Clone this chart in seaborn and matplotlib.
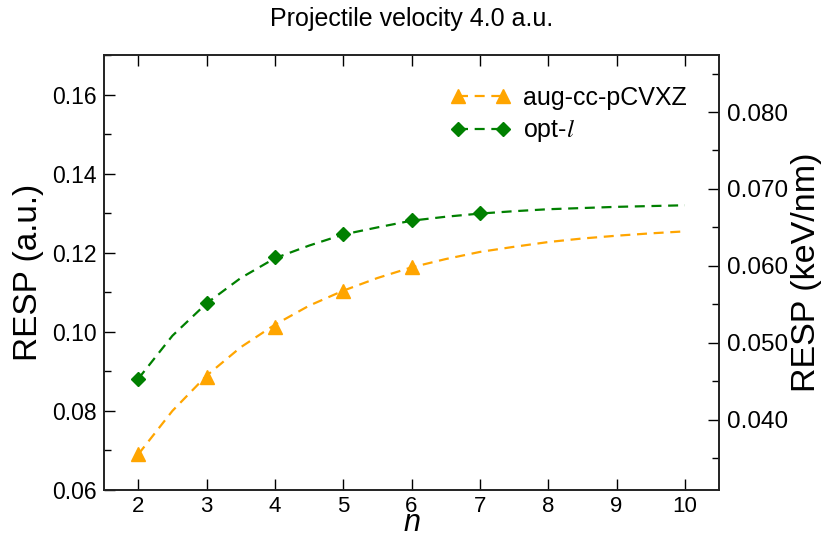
import numpy as np
import pandas as pd
import matplotlib
matplotlib.use('Agg')
import matplotlib.pyplot as plt
from matplotlib.lines import Line2D
from matplotlib.ticker import MultipleLocator, FormatStrFormatter
import seaborn as sns

sns.set_style('ticks')
plt.rcParams['font.family'] = ['Liberation Sans', 'DejaVu Sans']
plt.rcParams['mathtext.fontset'] = 'stix'
plt.rcParams['text.color'] = 'black'
plt.rcParams['axes.labelcolor'] = 'black'
plt.rcParams['xtick.color'] = 'black'
plt.rcParams['ytick.color'] = 'black'

# computed points
n_aug = [2, 3, 4, 5, 6]
resp_aug = [0.0690, 0.0887, 0.1013, 0.1102, 0.1163]
n_opt = [2, 3, 4, 5, 6, 7]
resp_opt = [0.0881, 0.1072, 0.1188, 0.1247, 0.1283, 0.1300]

# extrapolation curves
n_fit = [2, 2.5, 3, 3.5, 4, 4.5, 5, 5.5, 6, 6.5, 7, 7.5, 8, 8.5, 9, 9.5, 10]
fit_aug = [0.0690, 0.0800, 0.0889, 0.0961, 0.1018, 0.1066, 0.1104, 0.1136, 0.1163,
           0.1184, 0.1202, 0.1215, 0.1227, 0.1236, 0.1243, 0.1249, 0.1254]
fit_opt = [0.0881, 0.0990, 0.1072, 0.1136, 0.1186, 0.1218, 0.1246, 0.1264, 0.1281,
           0.1291, 0.1299, 0.1305, 0.1310, 0.1313, 0.1316, 0.1318, 0.1320]

AU_TO_KEV_NM = 0.51422
c_aug = '#FFA500'
c_opt = '#008000'
dash = (0, (4.5, 3))

fig = plt.figure(figsize=(8.27, 5.38), dpi=100)
ax = fig.add_axes([0.1258, 0.0892, 0.7437, 0.8086])

sns.lineplot(x=n_fit, y=fit_aug, ax=ax, color=c_aug, linestyle=dash, linewidth=1.6)
sns.lineplot(x=n_fit, y=fit_opt, ax=ax, color=c_opt, linestyle=dash, linewidth=1.6)
ax.plot(n_aug, resp_aug, linestyle='none', marker='^', markersize=10.5, color=c_aug)
ax.plot(n_opt, resp_opt, linestyle='none', marker='D', markersize=6.8, color=c_opt)

ax.set_xlim(1.5, 10.5)
ax.set_ylim(0.06, 0.17)
ax.set_xticks(range(2, 11))
ax.yaxis.set_major_locator(MultipleLocator(0.02))
ax.yaxis.set_minor_locator(MultipleLocator(0.01))
ax.yaxis.set_major_formatter(FormatStrFormatter('%.2f'))
ax.tick_params(axis='both', which='both', direction='in', width=1)
ax.tick_params(axis='y', labelsize=16.5, pad=5)
ax.tick_params(axis='x', labelsize=16, pad=4)
ax.tick_params(axis='x', which='major', length=8, top=True)
ax.tick_params(axis='y', which='major', length=8, right=False)
ax.tick_params(axis='y', which='minor', length=5, right=False)
for s in ax.spines.values():
    s.set_linewidth(1.2)
    s.set_color('#222222')

# x label sits right at the bottom edge, as in the original
ax.set_xlabel('')
fig.text(0.4977, 0.0, 'n', fontsize=22, style='italic', ha='center', va='bottom')
ax.set_ylabel('RESP (a.u.)', fontsize=24, labelpad=6)
ax.set_title('Projectile velocity 4.0 a.u.', fontsize=18, pad=21)

ax2 = ax.twinx()
ax2.set_ylim(0.06 * AU_TO_KEV_NM, 0.17 * AU_TO_KEV_NM)
ax2.yaxis.set_major_locator(MultipleLocator(0.01))
ax2.yaxis.set_minor_locator(MultipleLocator(0.005))
ax2.yaxis.set_major_formatter(FormatStrFormatter('%.3f'))
ax2.tick_params(axis='y', which='both', direction='in', labelsize=17.5, width=1, pad=6)
ax2.tick_params(axis='y', which='major', length=8)
ax2.tick_params(axis='y', which='minor', length=5)
ax2.set_ylabel('RESP (keV/nm)', fontsize=24.5, labelpad=2)
for s in ax2.spines.values():
    s.set_linewidth(1.2)
    s.set_color('#222222')

handles = [
    Line2D([], [], color=c_aug, linestyle=dash, linewidth=1.6, marker='^', markersize=10.5),
    Line2D([], [], color=c_opt, linestyle=dash, linewidth=1.6, marker='D', markersize=6.8),
]
ax.legend(handles, ['aug-cc-pCVXZ', 'opt-$l$'], loc='upper right', bbox_to_anchor=(0.963, 0.952),
          frameon=False, fontsize=18, numpoints=2, handlelength=2.4, handletextpad=0.5,
          labelspacing=0.3, borderaxespad=0)

fig.savefig('out.png', dpi=100)
